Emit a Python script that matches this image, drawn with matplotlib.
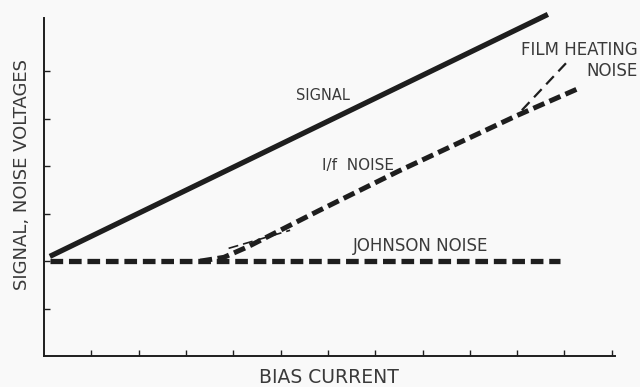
import matplotlib
matplotlib.use("Agg")
import matplotlib.pyplot as plt

# values (arbitrary units, ticks every 1)
signal_x = [0.12, 10.65]
signal_y = [2.1, 7.2]

johnson_x = [0.12, 10.9]
johnson_y = [2.0, 2.0]

one_over_f_x = [3.3, 3.8, 4.3, 5.8, 7.5, 10.0, 11.3]
one_over_f_y = [2.0, 2.08, 2.3, 3.06, 3.9, 5.07, 5.64]

knee_x = [3.9, 5.2]
knee_y = [2.27, 2.65]

film_x = [10.1, 11.06]
film_y = [5.18, 6.2]

ink = "#1e1e1e"
txt = "#3a3a3a"

fig = plt.figure(figsize=(6.4, 3.87), dpi=100)
fig.patch.set_facecolor("#f9f9f9")
ax = fig.add_axes([0.069, 0.080, 0.892, 0.873])
ax.set_facecolor("#f9f9f9")

ax.plot(signal_x, signal_y, color=ink, lw=3.8, solid_capstyle="butt", clip_on=False)
ax.plot(johnson_x, johnson_y, color=ink, lw=3.8, dashes=(2.4, 1.1), dash_capstyle="butt")
ax.plot(one_over_f_x, one_over_f_y, color=ink, lw=3.6, dashes=(2.4, 1.1), dash_capstyle="butt")
ax.plot(knee_x, knee_y, color=ink, lw=1.2, dashes=(6, 3))
ax.plot(film_x, film_y, color=ink, lw=1.6, dashes=(5, 3))

ax.text(5.33, 5.5, "SIGNAL", fontsize=10.5, color=txt, va="center")
ax.text(5.87, 4.02, "I/f  NOISE", fontsize=11, color=txt, va="center")
ax.text(6.53, 2.32, "JOHNSON NOISE", fontsize=12, color=txt, va="center")
ax.text(12.55, 6.44, "FILM HEATING", fontsize=12, color=txt, va="center", ha="right")
ax.text(12.55, 6.0, "NOISE", fontsize=12, color=txt, va="center", ha="right")

ax.set_xlim(0, 12.07)
ax.set_ylim(0, 7.12)
ax.set_xticks(range(1, 13))
ax.set_yticks(range(1, 7))
ax.set_xticklabels([])
ax.set_yticklabels([])
ax.tick_params(direction="in", length=4, width=1, color=ink)
for side in ["top", "right"]:
    ax.spines[side].set_visible(False)
for side in ["left", "bottom"]:
    ax.spines[side].set_linewidth(1.4)
    ax.spines[side].set_color(ink)

fig.text(0.514, 0.025, "BIAS CURRENT", fontsize=13.5, color=txt, ha="center", va="center")
fig.text(0.034, 0.55, "SIGNAL, NOISE VOLTAGES", fontsize=13, color=txt,
         ha="center", va="center", rotation=90)

fig.savefig("out.png", dpi=100, facecolor=fig.get_facecolor())
